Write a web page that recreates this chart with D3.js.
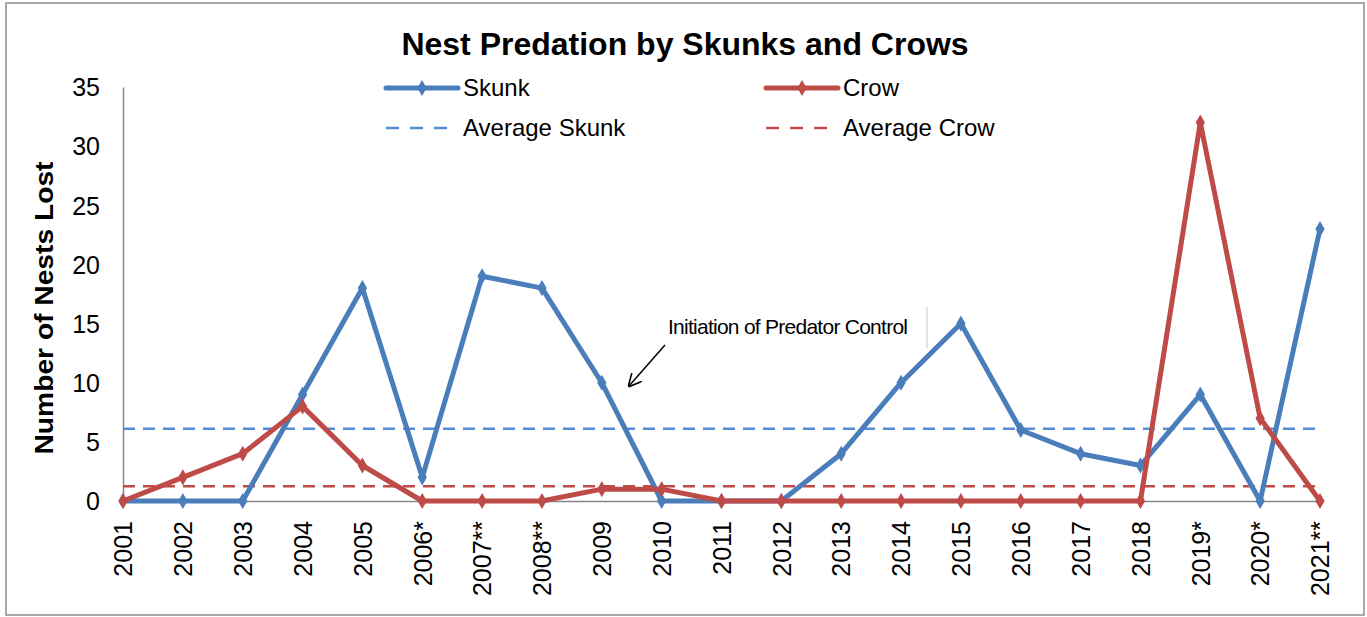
<!DOCTYPE html>
<html>
<head>
<meta charset="utf-8">
<script src="https://cdn.jsdelivr.net/npm/d3@7"></script>
<style>
  body { margin: 0; background: #fff; }
  text { font-family: "Liberation Sans", Arial, sans-serif; fill: #000; }
</style>
</head>
<body>
<div id="chart"></div>
<script>
const svgWidth = 1367,
      svgHeight = 617,
      margin = {top: 87, right: 47, bottom: 116, left: 123},
      width = svgWidth - margin.left - margin.right,
      height = svgHeight - margin.top - margin.bottom;

// data
const years = ["2001","2002","2003","2004","2005","2006*","2007**","2008**","2009","2010",
               "2011","2012","2013","2014","2015","2016","2017","2018","2019*","2020*","2021**"];
const skunk = [0,0,0,9,18,2,19,18,10,0,0,0,4,10,15,6,4,3,9,0,23];
const crow  = [0,2,4,8,3,0,0,0,1,1,0,0,0,0,0,0,0,0,32,7,0];
const avgSkunk = 6.1;
const avgCrow = 1.25;
const yTicks = [0,5,10,15,20,25,30,35];

const blue = "#4a7ebb", red = "#be4b48";

let scaleX = d3.scalePoint().domain(years).range([0, width]),
    scaleY = d3.scaleLinear().domain([0, 35]).range([height, 0]);

let svg = d3.select("#chart")
  .append("svg")
  .attr("width", svgWidth)
  .attr("height", svgHeight);

// outer frame
svg.append("rect")
  .attr("x", 6).attr("y", 3)
  .attr("width", 1358).attr("height", 612)
  .attr("fill", "none")
  .attr("stroke", "#8c8c8c")
  .attr("stroke-width", 1.5);

svg.append("text")
  .attr("x", 685).attr("y", 55)
  .attr("text-anchor", "middle")
  .style("font-size", "32px")
  .style("font-weight", "bold")
  .text("Nest Predation by Skunks and Crows");

let g = svg.append("g")
  .attr("transform", "translate(" + margin.left + "," + margin.top + ")");

// axes
let yAxis = g.append("g")
  .call(d3.axisLeft(scaleY).tickValues(yTicks).tickSize(0).tickPadding(23));
yAxis.select(".domain").attr("stroke", "#868686").attr("stroke-width", 1.5);
yAxis.selectAll("text").style("font-size", "25px").attr("dy", "0.35em");

let xAxis = g.append("g")
  .attr("transform", "translate(0," + height + ")")
  .call(d3.axisBottom(scaleX).tickSize(0));
xAxis.select(".domain").attr("stroke", "#868686").attr("stroke-width", 1.5);
xAxis.selectAll("text")
  .style("font-size", "25px")
  .attr("transform", "rotate(-90)")
  .attr("x", -20).attr("y", 0).attr("dy", "0.35em")
  .style("text-anchor", "end");

svg.append("text")
  .attr("transform", "translate(53,308)rotate(-90)")
  .attr("text-anchor", "middle")
  .attr("textLength", 293)
  .attr("lengthAdjust", "spacingAndGlyphs")
  .style("font-size", "25px")
  .style("font-weight", "bold")
  .text("Number of Nests Lost");

// average lines
[[avgSkunk, "#558ed5"], [avgCrow, red]].forEach(function(a) {
  g.append("line")
    .attr("x1", 0).attr("x2", width)
    .attr("y1", scaleY(a[0])).attr("y2", scaleY(a[0]))
    .attr("stroke", a[1])
    .attr("stroke-width", 2.5)
    .attr("stroke-dasharray", "12,8");
});

let line = d3.line()
  .x(function(d, i) { return scaleX(years[i]); })
  .y(function(d) { return scaleY(d); });

let diamond = d3.symbol().type(d3.symbolDiamond).size(75);

function drawSeries(values, color) {
  g.append("path")
    .datum(values)
    .attr("d", line)
    .attr("fill", "none")
    .attr("stroke", color)
    .attr("stroke-width", 5)
    .attr("stroke-linejoin", "round");
  g.selectAll(null)
    .data(values)
    .enter()
    .append("path")
    .attr("d", diamond)
    .attr("transform", function(d, i) { return "translate(" + scaleX(years[i]) + "," + scaleY(d) + ")"; })
    .attr("fill", color);
}

drawSeries(skunk, blue);
drawSeries(crow, red);

// legend
const legend = [
  {label: "Skunk", color: blue, x: 386, y: 88, dash: false},
  {label: "Crow", color: red, x: 766, y: 88, dash: false},
  {label: "Average Skunk", color: "#558ed5", x: 386, y: 128, dash: true},
  {label: "Average Crow", color: red, x: 766, y: 128, dash: true}
];
legend.forEach(function(l) {
  svg.append("line")
    .attr("x1", l.x).attr("x2", l.x + (l.dash ? 61 : 72))
    .attr("y1", l.y).attr("y2", l.y)
    .attr("stroke", l.color)
    .attr("stroke-width", l.dash ? 2.5 : 5)
    .attr("stroke-linecap", l.dash ? "butt" : "round")
    .attr("stroke-dasharray", l.dash ? "13,11" : null);
  if (!l.dash) {
    svg.append("path")
      .attr("d", diamond)
      .attr("transform", "translate(" + (l.x + 36) + "," + l.y + ")")
      .attr("fill", l.color);
  }
  svg.append("text")
    .attr("x", l.x + 77).attr("y", l.y + 8)
    .style("font-size", "24px")
    .text(l.label);
});

// annotation
svg.append("text")
  .attr("x", 668).attr("y", 334)
  .style("font-family", "'Liberation Sans Narrow', 'Liberation Sans', Arial, sans-serif")
  .style("font-size", "21px")
  .attr("textLength", 240)
  .text("Initiation of Predator Control");
svg.append("line")
  .attr("x1", 927).attr("x2", 927)
  .attr("y1", 307).attr("y2", 348)
  .attr("stroke", "#c8c8c8").attr("stroke-width", 1);

svg.append("defs").append("marker")
  .attr("id", "arrow")
  .attr("viewBox", "0 0 10 10")
  .attr("refX", 9).attr("refY", 5)
  .attr("markerWidth", 9).attr("markerHeight", 9)
  .attr("orient", "auto")
  .append("path")
  .attr("d", "M0,0 L10,5 L0,10")
  .attr("fill", "none")
  .attr("stroke", "#000")
  .attr("stroke-width", 1.2);
svg.append("line")
  .attr("x1", 665).attr("y1", 345)
  .attr("x2", 629).attr("y2", 386)
  .attr("stroke", "#000").attr("stroke-width", 1.5)
  .attr("marker-end", "url(#arrow)");
</script>
</body>
</html>
